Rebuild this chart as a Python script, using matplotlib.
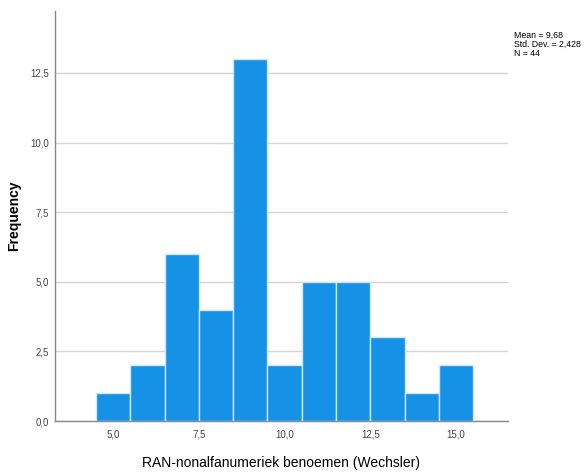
import matplotlib
matplotlib.use("Agg")
import matplotlib.pyplot as plt
from matplotlib.ticker import FixedLocator, FuncFormatter

# Score values and how often each occurs
scores = [5, 6, 7, 8, 9, 10, 11, 12, 13, 14, 15]
counts = [1, 2, 6, 4, 13, 2, 5, 5, 3, 1, 2]
x_ticks = [5.0, 7.5, 10.0, 12.5, 15.0]
y_ticks = [0.0, 2.5, 5.0, 7.5, 10.0, 12.5]
stats_text = "Mean = 9,68\nStd. Dev. = 2,428\nN = 44"

plt.rcParams['font.family'] = ['Liberation Sans', 'DejaVu Sans']

fig = plt.figure(figsize=(5.84, 4.72), dpi=100)
ax = fig.add_axes([0.094, 0.108, 0.776, 0.869])

ax.bar(scores, counts, width=1.0, color="#1591E6", edgecolor="#CFE6F7",
       linewidth=1.0, zorder=3)

ax.set_xlim(3.3, 16.52)
ax.set_ylim(0, 14.73)
ax.xaxis.set_major_locator(FixedLocator(x_ticks))
ax.yaxis.set_major_locator(FixedLocator(y_ticks))
comma = FuncFormatter(lambda v, p: f"{v:.1f}".replace(".", ","))
ax.xaxis.set_major_formatter(comma)
ax.yaxis.set_major_formatter(comma)
ax.tick_params(axis="x", length=0, labelsize=7, colors="#444444", pad=6)
ax.tick_params(axis="y", length=0, labelsize=7, colors="#444444", pad=4)

ax.grid(axis="y", color="#D4D4D4", linewidth=1.0, zorder=0)
for side in ("top", "right"):
    ax.spines[side].set_visible(False)
for side in ("left", "bottom"):
    ax.spines[side].set_color("#888888")
    ax.spines[side].set_linewidth(1.0)

ax.set_xlabel("RAN-nonalfanumeriek benoemen (Wechsler)", fontsize=10)
ax.xaxis.set_label_coords(0.5, -0.085)
ax.set_ylabel("Frequency", fontsize=10, fontweight="bold")
ax.yaxis.set_label_coords(-0.075, 0.5)

fig.text(514 / 584, 1 - 31 / 472, stats_text, fontsize=6.3, va="top", ha="left",
         linespacing=1.0)

fig.savefig("out.png", dpi=100)
